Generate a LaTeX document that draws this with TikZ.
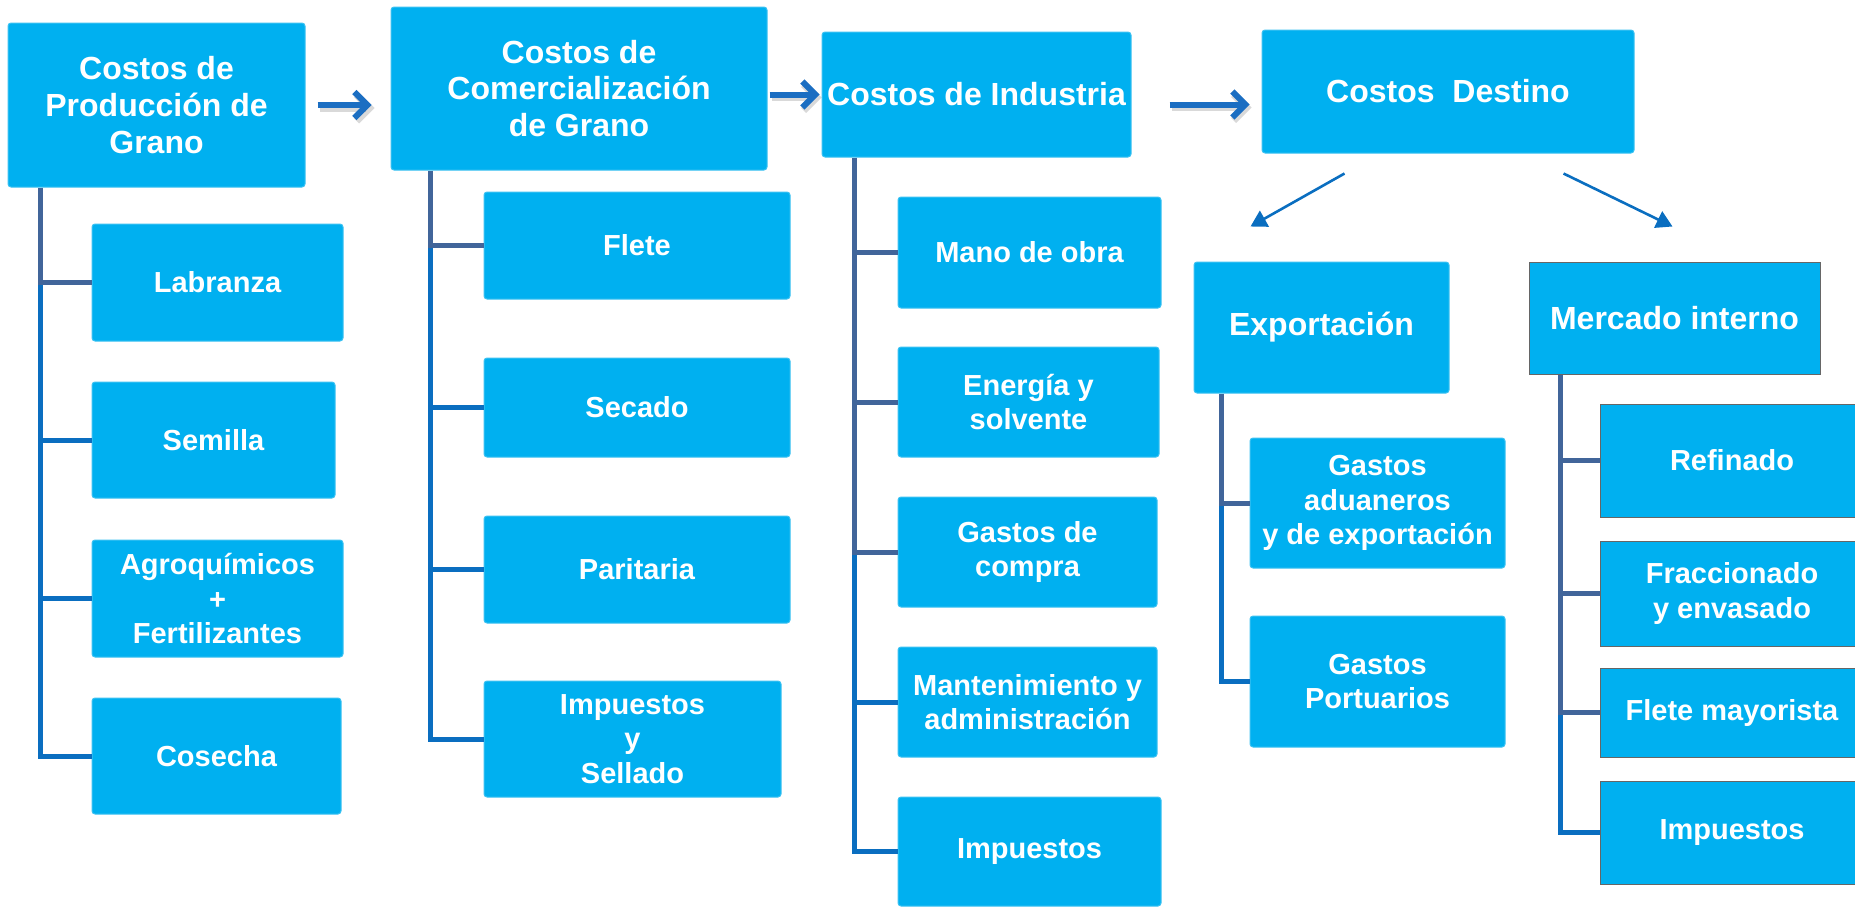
\documentclass[tikz,border=0pt]{standalone}
\usepackage{fontspec}
\setmainfont{Liberation Sans}
\usetikzlibrary{arrows.meta}
\definecolor{boxc}{HTML}{00B0F0}
\definecolor{boxedge}{HTML}{3CC2F2}
\definecolor{steel}{HTML}{41659A}
\definecolor{lblue}{HTML}{0A6EC0}
\definecolor{arrc}{HTML}{1B6EC2}
\newcommand\mkbox[7][box]{%
  \pgfmathsetmacro\bxw{(#5-#3)*0.5}%
  \pgfmathsetmacro\bxh{(#6-#4)*0.5}%
  \node[#1,minimum width=\bxw pt,minimum height=\bxh pt] (#2) at ({(#3+#5)/2},{(#4+#6)/2}) {#7};}
\begin{document}
\begin{tikzpicture}[x=0.5pt,y=-0.5pt,
  box/.style={fill=boxc,draw=boxedge,line width=0.5pt,rounded corners=1.5pt,inner sep=0pt,
    text=white,align=center,font=\bfseries\fontsize{14.5}{17.2}\selectfont},
  titlebox/.style={box,font=\bfseries\fontsize{16}{18.3}\selectfont},
  mbox/.style={box,draw=black!60,rounded corners=0pt},
  mtitle/.style={titlebox,draw=black!60,rounded corners=0pt},
  stl/.style={draw=steel,line width=2.5pt,line join=miter},
  blu/.style={draw=lblue,line width=2.5pt,line join=miter},
  harrow/.style={draw=arrc,line width=3pt,-{Straight Barb[length=6.5pt,width=13pt]}},
  hshadow/.style={draw=black,opacity=0.15,line width=3.5pt,-{Straight Barb[length=6.5pt,width=13pt]}},
  darrow/.style={draw=lblue,line width=1.3pt,-{Triangle[length=8pt,width=9pt]}}]
\useasboundingbox (0,0) rectangle (1855,906);

% main boxes
\mkbox[titlebox]{A}{8}{23}{305}{187}{Costos de\\Producción de\\Grano}
\mkbox[titlebox]{B}{391}{7}{767}{170}{Costos de\\Comercialización\\de Grano}
\mkbox[titlebox]{C}{822}{32}{1131}{157}{Costos de Industria}
\mkbox[titlebox]{D}{1262}{30}{1634}{153}{Costos\ \ Destino}
\mkbox[titlebox]{E}{1194}{262}{1449}{393}{Exportación}
\mkbox[mtitle]{M}{1529}{262}{1820}{374}{Mercado interno}

% column A
\mkbox{lab}{92}{224}{343}{341}{Labranza}
\mkbox{sem}{92}{382}{335}{498}{Semilla}
\mkbox{agr}{92}{540}{343}{657}{Agroquímicos\\+\\Fertilizantes}
\mkbox{cos}{92}{698}{341}{814}{Cosecha}
% column B
\mkbox{fle}{484}{192}{790}{299}{Flete}
\mkbox{sec}{484}{358}{790}{457}{Secado}
\mkbox{par}{484}{516}{790}{623}{Paritaria}
\mkbox{ise}{484}{681}{781}{797}{Impuestos\\y\\Sellado}
% column C
\mkbox{man}{898}{197}{1161}{308}{Mano de obra}
\mkbox{ene}{898}{347}{1159}{457}{Energía y\\solvente}
\mkbox{gco}{898}{497}{1157}{607}{Gastos de\\compra}
\mkbox{mad}{898}{647}{1157}{757}{Mantenimiento y\\administración}
\mkbox{imc}{898}{797}{1161}{906}{Impuestos}
% column E
\mkbox{gad}{1250}{438}{1505}{568}{Gastos\\aduaneros\\y de exportación}
\mkbox{gpo}{1250}{616}{1505}{747}{Gastos\\Portuarios}
% column M
\mkbox[mbox]{ref}{1600}{404}{1864}{517}{Refinado}
\mkbox[mbox]{fra}{1600}{541}{1864}{646}{Fraccionado\\y envasado}
\mkbox[mbox]{flm}{1600}{668}{1864}{757}{Flete mayorista}
\mkbox[mbox]{imm}{1600}{781}{1864}{884}{Impuestos}

% trunk x positions
\coordinate (tA) at (40,0);
\coordinate (tB) at (430,0);
\coordinate (tC) at (854,0);
\coordinate (tE) at (1221,0);
\coordinate (tM) at (1560,0);

% column A connectors
\draw[blu] (tA |- lab.west) -- (tA |- cos.west) -- (cos.west);
\draw[blu] (tA |- sem.west) -- (sem.west);
\draw[blu] (tA |- agr.west) -- (agr.west);
\draw[stl] (tA |- A.south) -- (tA |- lab.west) -- (lab.west);
% column B connectors
\draw[blu] (tB |- fle.west) -- (tB |- ise.west) -- (ise.west);
\draw[blu] (tB |- sec.west) -- (sec.west);
\draw[blu] (tB |- par.west) -- (par.west);
\draw[stl] (tB |- B.south) -- (tB |- fle.west) -- (fle.west);
% column C connectors
\draw[blu] (tC |- gco.west) -- (tC |- imc.west) -- (imc.west);
\draw[blu] (tC |- mad.west) -- (mad.west);
\draw[stl] (tC |- ene.west) -- (ene.west);
\draw[stl] (tC |- C.south) -- (tC |- gco.west) -- (gco.west);
\draw[stl] (tC |- man.west) -- (man.west);
% column E connectors
\draw[blu] (tE |- gad.west) -- (tE |- gpo.west) -- (gpo.west);
\draw[stl] (tE |- E.south) -- (tE |- gad.west) -- (gad.west);
% column M connectors
\draw[blu] (tM |- flm.west) -- (tM |- imm.west) -- (imm.west);
\draw[stl] (tM |- ref.west) -- (ref.west);
\draw[stl] (tM |- fra.west) -- (fra.west);
\draw[stl] (tM |- M.south) -- (tM |- flm.west) -- (flm.west);

% horizontal arrows (with soft shadow)
\draw[hshadow] ([xshift=7pt,yshift=-1.5pt]A.east) -- ([xshift=-8pt,yshift=-1.5pt]A.east -| B.west);
\draw[harrow] ([xshift=6pt]A.east) -- ([xshift=-9.5pt]A.east -| B.west);
\draw[hshadow] ([xshift=2pt,yshift=-1.5pt]B.east |- C.west) -- ([xshift=0pt,yshift=-1.5pt]C.west);
\draw[harrow] ([xshift=1pt]B.east |- C.west) -- ([xshift=-1pt]C.west);
\draw[hshadow] ([xshift=20pt,yshift=-6.5pt]C.east) -- ([xshift=-5pt,yshift=-6.5pt]C.east -| D.west);
\draw[harrow] ([xshift=19pt,yshift=-5pt]C.east) -- ([xshift=-6pt,yshift=-5pt]C.east -| D.west);

% diagonal arrows
\draw[darrow] ([xshift=41.5pt,yshift=-10pt]D.south west) -- ([xshift=28.5pt,yshift=17.5pt]E.north west);
\draw[darrow] ([xshift=-35.5pt,yshift=-10pt]D.south east) -- ([xshift=72pt,yshift=17.5pt]M.north west);
\end{tikzpicture}
\end{document}
